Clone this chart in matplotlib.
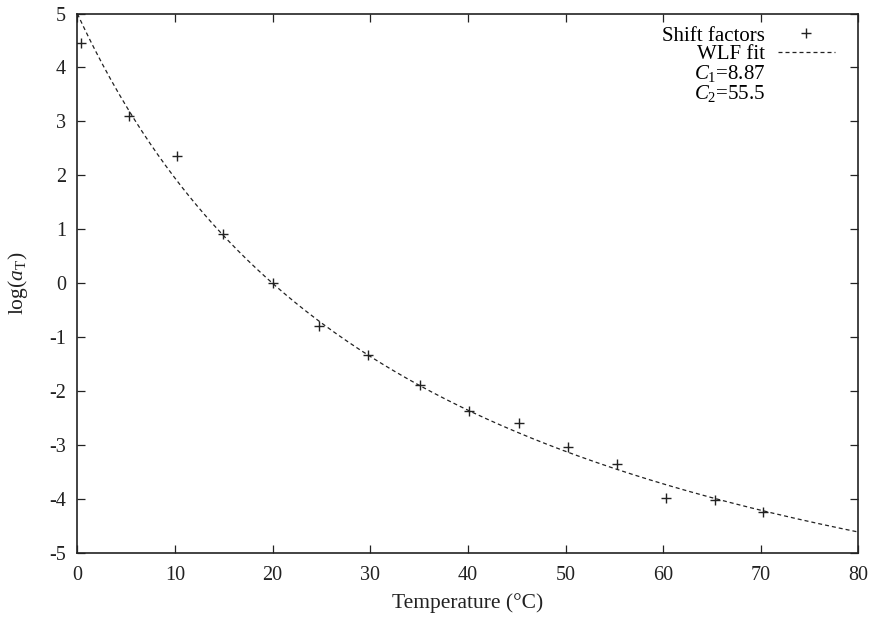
import matplotlib
matplotlib.use("Agg")
import matplotlib.pyplot as plt
import numpy as np
from matplotlib.lines import Line2D

# measured shift factors
temperature = [0.4, 5.3, 10.2, 14.9, 20.0, 24.8, 29.8, 35.1, 40.1, 45.2, 50.2, 55.3, 60.3, 65.3, 70.2]
log_at = [4.45, 3.10, 2.36, 0.92, 0.0, -0.79, -1.33, -1.88, -2.37, -2.58, -3.04, -3.35, -3.97, -4.01, -4.24]

# WLF fit parameters as printed in the legend
C1 = 8.87
C2 = 55.5
T_REF = 20.0

x_ticks = [0, 10, 20, 30, 40, 50, 60, 70, 80]
y_ticks = [-5, -4, -3, -2, -1, 0, 1, 2, 3, 4, 5]

plt.rcParams["font.family"] = ["Liberation Serif", "DejaVu Serif"]
plt.rcParams["mathtext.fontset"] = "custom"
plt.rcParams["mathtext.rm"] = "Liberation Serif"
plt.rcParams["mathtext.it"] = "Liberation Serif:italic"
plt.rcParams["axes.unicode_minus"] = False

fig = plt.figure(figsize=(8.72, 6.23), dpi=100)
ax = fig.add_axes([0.0887, 0.112, 0.8958, 0.8663])

t_fit = np.linspace(0, 80, 400)
wlf = -C1 * (t_fit - T_REF) / (C2 + t_fit - T_REF)

ax.plot(temperature, log_at, linestyle="none", marker="+", markersize=7,
        markeredgewidth=1.0, color="#222222", label="Shift factors")
ax.plot(t_fit, wlf, linestyle=(0, (3.2, 2.4)), linewidth=0.9,
        color="#222222", label="WLF fit")

ax.set_xlim(0, 80)
ax.set_ylim(-5, 5)
ax.set_xticks(x_ticks)
ax.set_yticks(y_ticks)
ax.tick_params(direction="in", length=6, width=0.9, top=True, right=True,
               labelsize=14.5, colors="#222222")
ax.tick_params(axis="x", pad=9)
ax.tick_params(axis="y", pad=8)
for spine in ax.spines.values():
    spine.set_linewidth(1.2)
    spine.set_color("#222222")

ax.set_xlabel("Temperature (°C)", fontsize=15.5, color="#222222", labelpad=6)
ax.set_ylabel(r"log($a_\mathrm{T}$)", fontsize=15.5, color="#222222", labelpad=14)

handles, labels = ax.get_legend_handles_labels()
blank = Line2D([], [], linestyle="none", marker=None)
handles += [blank, blank]
labels += [r"$C_1$=8.87", r"$C_2$=55.5"]
ax.legend(handles, labels, loc="upper right", frameon=False, markerfirst=False,
          fontsize=15, handlelength=2.75, handletextpad=0.6, labelspacing=-0.05,
          borderpad=0.4, borderaxespad=0.2, bbox_to_anchor=(0.986, 1.0))

fig.savefig("out.png", dpi=100)
